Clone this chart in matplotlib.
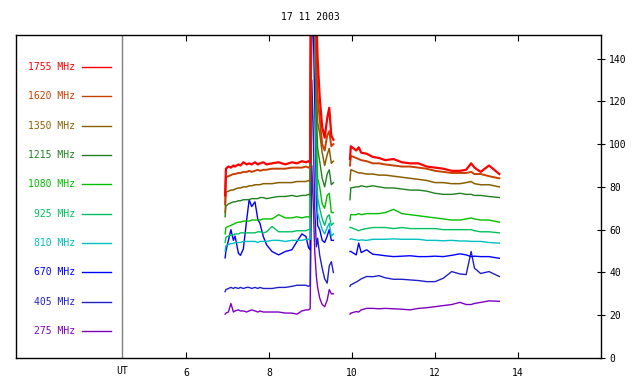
import numpy as np
import matplotlib
matplotlib.use("Agg")
import matplotlib.pyplot as plt

nan = np.nan

# hours UT: before burst, burst, gap, after gap
t_before = [6.94, 6.96, 7.02, 7.08, 7.14, 7.18, 7.26, 7.31, 7.38, 7.46, 7.52, 7.58, 7.66,
            7.73, 7.78, 7.86, 7.94, 8.07, 8.23, 8.39, 8.55, 8.67, 8.79, 8.89, 8.95, 8.99]
t_burst = [9.01, 9.03, 9.06, 9.10, 9.14, 9.17, 9.22, 9.28, 9.34, 9.40, 9.45, 9.50, 9.55]
t_gap = [9.75]
t_after = [9.95, 9.97, 10.1, 10.16, 10.22, 10.35, 10.5, 10.65, 10.8, 11.0, 11.2, 11.4,
           11.6, 11.8, 12.0, 12.2, 12.4, 12.6, 12.75, 12.87, 12.95, 13.1, 13.3, 13.55]
hours = t_before + t_burst + t_gap + t_after

# flux values (same order as hours, nan = gap)
mhz_1755 = [76, 88.5, 89.5, 89, 90, 89.5, 90.5, 90, 91.5, 90.5, 91, 90.5, 91.5, 90.5, 91, 91.5,
            90.5, 91, 91.5, 90.5, 91.5, 91, 92, 91.5, 92, 91.5,
            200, 220, 210, 190, 160, 140, 122, 108, 103, 112, 117, 104, 102,
            nan,
            93, 99, 97, 98.5, 96, 95.5, 94, 93.5, 92.5, 93, 91.5, 91, 91, 89.5, 89, 88.5,
            87.5, 87.5, 88, 91, 89, 87, 90, 86]
mhz_1620 = [72, 84.5, 85, 85.5, 86, 86, 86.5, 86.5, 87, 87, 87.5, 87, 87.5, 88, 87.5, 88,
            88, 88.5, 88.5, 88.5, 89, 89, 89, 89.5, 89, 89.5,
            190, 210, 200, 180, 140, 122, 112, 100, 97, 104, 106, 99, 100,
            nan,
            90, 94.5, 93.5, 93, 92.5, 92, 91, 91, 90.5, 90, 89.5, 89.5, 89, 88.5, 87.5, 87,
            86.5, 86.5, 86.5, 87, 86, 86, 85, 84]
mhz_1350 = [68, 77.5, 78, 78.5, 78.5, 79, 79.5, 79.5, 80, 80, 80.5, 80.5, 81, 81, 81, 81.5,
            81.5, 81.5, 82, 82, 82, 82.5, 82.5, 82.5, 83, 82.5,
            180, 200, 190, 170, 125, 110, 105, 96, 90, 95, 98, 91, 92,
            nan,
            83, 88, 87, 86.5, 86.5, 86, 86, 85.5, 85.5, 85, 84.5, 84, 83.5, 83, 82, 82,
            81.5, 81.5, 82, 82.5, 81.5, 81, 81, 80]
mhz_1215 = [66, 71, 72, 72.5, 73, 73, 73.5, 73.5, 74, 74, 74, 74.5, 74.5, 74.5, 75, 75,
            74.5, 75, 75.5, 75.5, 76, 75.5, 76, 76, 76.5, 76,
            170, 190, 180, 160, 115, 98, 92, 84, 80, 86, 88, 81, 82,
            nan,
            74, 79.5, 80, 80, 80.5, 80, 80.5, 80, 79.5, 79.5, 79, 78.5, 78.5, 78, 77, 76.5,
            76.5, 77, 76.5, 76.5, 76, 76, 75.5, 75]
mhz_1080 = [58, 61, 61.5, 62, 62.5, 63, 63.5, 63.5, 64, 64, 64, 64.5, 64.5, 64.5, 64.5, 65,
            65, 65, 67, 65.5, 65.5, 66, 65.5, 66, 66, 66,
            160, 185, 200, 170, 105, 84, 80, 72, 70, 76, 77, 68, 68,
            nan,
            64.5, 67, 67, 67.5, 67, 67.5, 67.5, 67.5, 68, 69.5, 67.5, 67, 66.5, 66, 65.5, 65,
            64.5, 64.5, 65, 65.5, 65, 64.5, 64.5, 63.5]
mhz_925 = [54, 56.5, 57, 57.5, 57.5, 58, 58, 58.5, 58.5, 58.5, 58.5, 58.5, 58.5, 59, 59, 58.5,
           59, 61.5, 59, 59, 59, 59.5, 59.5, 59.5, 60, 60,
           150, 175, 190, 175, 95, 75, 70, 65, 62, 66, 67, 62, 63,
           nan,
           61, 61, 60, 59.5, 60, 60.5, 61, 61, 61, 60.5, 61, 60.5, 60.5, 60.5, 60.5, 60,
           60, 60, 60, 60, 59.5, 59, 59, 58.5]
mhz_810 = [50, 52.5, 53, 53.5, 53.5, 54, 54, 54, 54.5, 54.5, 54.5, 54.5, 54.5, 54, 54.5, 54.5,
           54.5, 55, 55, 54.5, 55, 55, 55, 55.5, 55.5, 55.5,
           140, 165, 180, 175, 90, 68, 64, 60, 58, 61, 63, 57, 58,
           nan,
           55.5, 55.7, 55.2, 55, 55.2, 55, 55.5, 55.5, 55.5, 55.7, 55.5, 55.5, 55.5, 55, 55, 54.8,
           55, 54.7, 54.7, 54.5, 54.5, 54.5, 54, 53.7]
mhz_670 = [46.8, 50, 55, 60, 55, 57, 49, 48, 51, 64.6, 74, 70.8, 73, 64.6, 63, 56.8,
           52.9, 49.8, 48.2, 49.8, 50.6, 54.4, 58, 56.8, 51.6, 50.6,
           120, 150, 160, 120, 75, 62, 60, 55, 54, 57, 60, 55, 55,
           nan,
           49.8, 49.8, 48.2, 53.7, 49.3, 50.6, 48.5, 48.2, 47.8, 47.4, 47.6, 47.8, 47.4, 47.4, 47.6, 47.4,
           48, 48.7, 48.2, 47.4, 47.6, 47.4, 47.4, 46.6]
mhz_405 = [31, 32, 32.5, 33, 32.5, 33, 32.5, 33, 32.5, 33, 33, 32.5, 33, 32.5, 33, 32.5,
           32.5, 32.5, 33, 33, 33.5, 34, 34, 34, 33.5, 34,
           80, 130, 110, 70, 52, 56, 48, 42, 37, 35, 43, 45, 40,
           nan,
           33.5, 34.2, 35.5, 36.2, 37, 38.1, 38, 38.5, 37.5, 36.8, 36.8, 36.5, 36.2, 35.7, 35.7, 37.3,
           40.4, 39.3, 39, 49.8, 42, 39.5, 40.4, 38.1]
mhz_275 = [20.5, 21, 21.5, 25.5, 21.5, 22, 22.5, 22, 22, 21.5, 22, 22.5, 22, 21.5, 22, 21.5,
           21.5, 21.5, 21.5, 21, 21, 20.5, 22, 22.5, 22.5, 23,
           60, 90, 75, 50, 38, 33, 28, 25, 24, 27, 32, 30, 30,
           nan,
           20.5, 21, 21.7, 21.5, 22.5, 23.2, 23.2, 23, 23.2, 23, 22.8, 22.5, 23.2, 23.5, 24, 24.5,
           25, 26, 25, 25, 25.5, 26, 26.7, 26.5]

labels = ["1755 MHz", "1620 MHz", "1350 MHz", "1215 MHz", "1080 MHz",
          "925 MHz", "810 MHz", "670 MHz", "405 MHz", "275 MHz"]
series = [mhz_1755, mhz_1620, mhz_1350, mhz_1215, mhz_1080,
          mhz_925, mhz_810, mhz_670, mhz_405, mhz_275]
colors = ["#ff0000", "#c84000", "#886000", "#208020", "#00c000",
          "#00c060", "#00c0c0", "#0000ff", "#2020c8", "#8000c0"]
widths = [1.6, 1.4, 1.1, 1.0, 1.0, 1.0, 1.0, 1.0, 1.0, 1.0]

font = "DejaVu Sans Mono"

fig = plt.figure(figsize=(6.4, 3.84), dpi=100)
ax = fig.add_axes([16 / 640, 26 / 384, 585 / 640, 323 / 384])
ax.set_xlim(1.9, 16)
ax.set_ylim(0, 151)

for vals, col, w in zip(series[::-1], colors[::-1], widths[::-1]):
    ax.plot(hours, vals, color=col, lw=w)

# left panel: divider and legend
ax.axvline(4.45, color="#808080", lw=1)
for i, (lab, col) in enumerate(zip(labels, colors)):
    yy = 136.1 - 13.72 * i
    ax.text(3.32, yy, lab, color=col, ha="right", va="center", fontsize=7, family=font)
    ax.plot([3.49, 4.18], [yy, yy], color=col, lw=1)

# axes styling
for s in ax.spines.values():
    s.set_color("black")
    s.set_linewidth(1)
ax.set_xticks([6, 8, 10, 12, 14])
ax.tick_params(axis="x", direction="in", top=True, bottom=True, length=4,
               labelsize=7, pad=7)
ax.set_yticks(range(0, 141, 20))
ax.yaxis.tick_right()
ax.tick_params(axis="y", direction="inout", left=False, right=True, length=6,
               labelsize=7, pad=3)
for lab in ax.get_xticklabels() + ax.get_yticklabels():
    lab.set_family(font)

ax.text(4.45, -0.04, "UT", transform=ax.get_xaxis_transform(), ha="center",
        va="center", fontsize=7, family=font)
fig.text(310 / 640, 1 - 17 / 384, "17 11 2003", ha="center", va="center",
         fontsize=7, family=font)

fig.savefig("out.png", dpi=100)
